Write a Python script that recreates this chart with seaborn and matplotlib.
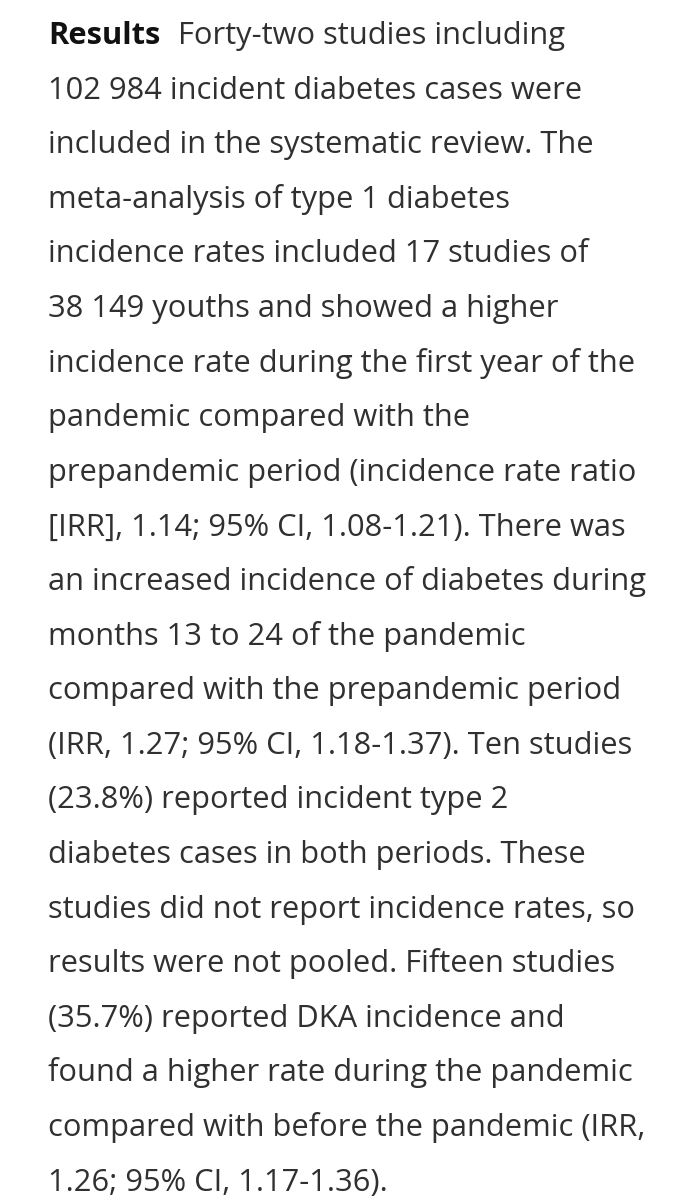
import matplotlib.pyplot as plt
import seaborn as sns

# text of the abstract, one entry per rendered line
lead_word = "Results"
lines = [
    "Forty-two studies including",
    "102 984 incident diabetes cases were",
    "included in the systematic review. The",
    "meta-analysis of type 1 diabetes",
    "incidence rates included 17 studies of",
    "38 149 youths and showed a higher",
    "incidence rate during the first year of the",
    "pandemic compared with the",
    "prepandemic period (incidence rate ratio",
    "[IRR], 1.14; 95% CI, 1.08-1.21). There was",
    "an increased incidence of diabetes during",
    "months 13 to 24 of the pandemic",
    "compared with the prepandemic period",
    "(IRR, 1.27; 95% CI, 1.18-1.37). Ten studies",
    "(23.8%) reported incident type 2",
    "diabetes cases in both periods. These",
    "studies did not report incidence rates, so",
    "results were not pooled. Fifteen studies",
    "(35.7%) reported DKA incidence and",
    "found a higher rate during the pandemic",
    "compared with before the pandemic (IRR,",
    "1.26; 95% CI, 1.17-1.36).",
]

sns.set_theme(style="white")
plt.rcParams['font.family'] = ['Open Sans', 'DejaVu Sans']

fig = plt.figure(figsize=(6.93, 12), dpi=100)
ax = fig.add_axes([0, 0, 1, 1])
ax.set_xlim(0, 693)
ax.set_ylim(1200, 0)
ax.axis('off')

left = 48
first_base = 44
step = 54.6
fs = 22.2
col = '#303030'

bold = ax.text(left, first_base, lead_word, fontsize=fs, fontweight='bold',
               color='#111111', va='baseline')
fig.canvas.draw()
bb = bold.get_window_extent()
x_after = bb.x1 + 18

for i, line in enumerate(lines):
    x = left if i > 0 else x_after
    ax.text(x, first_base + i * step, line, fontsize=fs, color=col, va='baseline')

fig.savefig('out.png', dpi=100, facecolor='white')
